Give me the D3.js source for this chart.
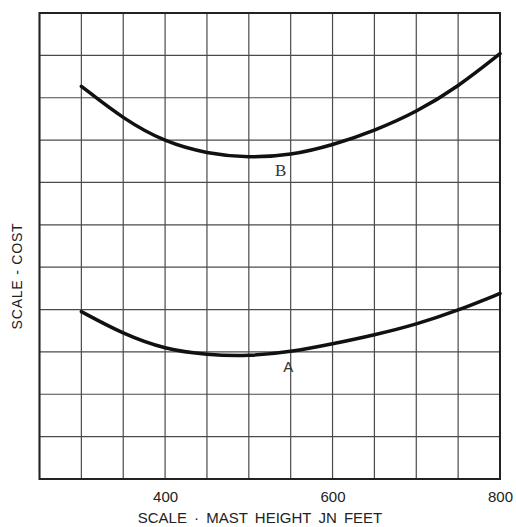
<!DOCTYPE html>
<html>
<head>
<meta charset="utf-8">
<script src="https://cdn.jsdelivr.net/npm/d3@7"></script>
<style>
  body { margin: 0; background: #fff; }
  svg { display: block; }
</style>
</head>
<body>
<div id="chart"></div>
<script>
// mast height (feet) and relative cost in grid units
const heights = [300, 350, 400, 450, 500, 550, 600, 650, 700, 750, 800]
const costB = [9.27, 8.50, 7.95, 7.68, 7.58, 7.64, 7.88, 8.22, 8.66, 9.26, 10.04]
const costA = [3.95, 3.42, 3.06, 2.93, 2.90, 3.00, 3.19, 3.40, 3.65, 3.98, 4.38]
const xTickLabels = [400, 600, 800]
const gridX = d3.range(250, 801, 50)
const gridY = d3.range(0, 12, 1)

const W = 516, H = 527
const m = { left: 39.5, right: 16, top: 13, bottom: 48 }

const svg = d3.select('#chart').append('svg')
    .attr('width', W)
    .attr('height', H)

const x = d3.scaleLinear().domain([250, 800]).range([m.left, W - m.right])
const y = d3.scaleLinear().domain([0, 11]).range([H - m.bottom, m.top])

// grid
svg.append('g')
    .selectAll('line.v')
    .data(gridX)
    .enter()
    .append('line')
    .attr('x1', d => x(d)).attr('x2', d => x(d))
    .attr('y1', y(0)).attr('y2', y(11))
    .attr('stroke', '#4a4a4a')
    .attr('stroke-width', 1.2)

svg.append('g')
    .selectAll('line.h')
    .data(gridY)
    .enter()
    .append('line')
    .attr('x1', x(250)).attr('x2', x(800))
    .attr('y1', d => y(d)).attr('y2', d => y(d))
    .attr('stroke', '#4a4a4a')
    .attr('stroke-width', 1.2)

// frame
svg.append('rect')
    .attr('x', x(250)).attr('y', y(11))
    .attr('width', x(800) - x(250))
    .attr('height', y(0) - y(11))
    .attr('fill', 'none')
    .attr('stroke', '#222')
    .attr('stroke-width', 2)

// curves
const line = d3.line()
    .x(d => x(d[0]))
    .y(d => y(d[1]))
    .curve(d3.curveBasis)

const curves = [
    { id: 'A', values: costA },
    { id: 'B', values: costB }
]

svg.selectAll('path.curve')
    .data(curves)
    .enter()
    .append('path')
    .attr('class', 'curve')
    .attr('d', c => line(heights.map((h, i) => [h, c.values[i]])))
    .attr('fill', 'none')
    .attr('stroke', '#111')
    .attr('stroke-width', 3.5)
    .attr('stroke-linecap', 'round')

// curve labels
svg.append('text')
    .text('B')
    .attr('x', x(538)).attr('y', y(7.28))
    .attr('text-anchor', 'middle')
    .attr('dominant-baseline', 'central')
    .attr('font-family', 'Liberation Serif, serif')
    .attr('font-size', 17)
    .attr('fill', '#333')

svg.append('text')
    .text('A')
    .attr('x', x(547)).attr('y', y(2.65))
    .attr('text-anchor', 'middle')
    .attr('dominant-baseline', 'central')
    .attr('font-family', 'Liberation Sans, sans-serif')
    .attr('font-size', 15)
    .attr('fill', '#333')

// x axis tick labels
const xAxis = svg.append('g')
    .attr('transform', `translate(0, ${y(0)})`)
    .call(d3.axisBottom(x).tickValues(xTickLabels).tickSize(0).tickPadding(12))

xAxis.select('.domain').remove()
xAxis.selectAll('text')
    .attr('font-family', 'Liberation Sans, sans-serif')
    .attr('font-size', 15)
    .attr('fill', '#222')

// axis titles
svg.append('text')
    .text('SCALE · MAST HEIGHT JN FEET')
    .attr('x', 260).attr('y', 517)
    .attr('text-anchor', 'middle')
    .attr('dominant-baseline', 'central')
    .attr('font-family', 'Liberation Sans, sans-serif')
    .attr('font-size', 15)
    .attr('word-spacing', 3)
    .attr('fill', '#222')

svg.append('text')
    .text('SCALE - COST')
    .attr('transform', 'translate(17, 276) rotate(-90)')
    .attr('text-anchor', 'middle')
    .attr('dominant-baseline', 'central')
    .attr('font-family', 'Liberation Sans, sans-serif')
    .attr('font-size', 14)
    .attr('letter-spacing', 0.8)
    .attr('fill', '#222')
</script>
</body>
</html>
